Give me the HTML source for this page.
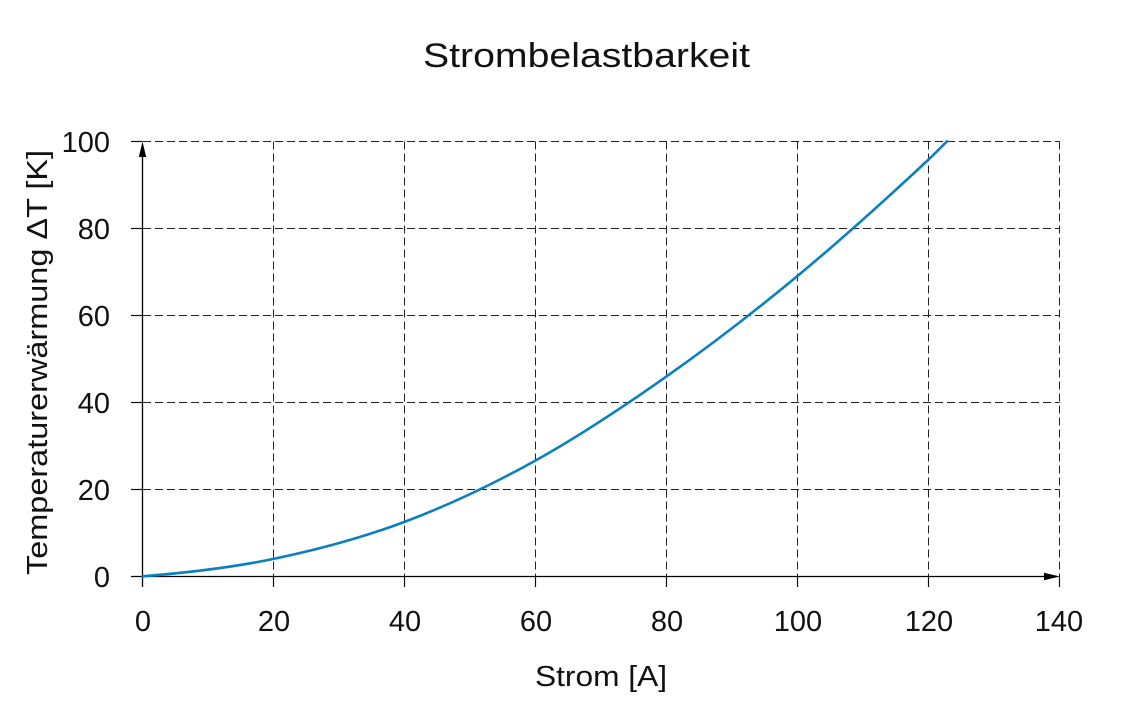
<!DOCTYPE html>
<html>
<head>
<meta charset="utf-8">
<style>
  html,body{margin:0;padding:0;background:#fff;}
  svg{display:block;}
  text{font-family:"Liberation Sans","DejaVu Sans",sans-serif;fill:#111;}
</style>
</head>
<body>
<svg width="1123" height="726" viewBox="0 0 1123 726" xmlns="http://www.w3.org/2000/svg">
  <rect width="1123" height="726" fill="#fff"/>

  <!-- Title -->
  <text x="423" y="67" font-size="34" textLength="327" lengthAdjust="spacingAndGlyphs">Strombelastbarkeit</text>

  <!-- grid (dashed) -->
  <g stroke="#222" stroke-width="1" stroke-dasharray="8 4" fill="none">
    <line x1="273.5" y1="141.5" x2="273.5" y2="576.5"/>
    <line x1="404.5" y1="141.5" x2="404.5" y2="576.5"/>
    <line x1="535.5" y1="141.5" x2="535.5" y2="576.5"/>
    <line x1="666.5" y1="141.5" x2="666.5" y2="576.5"/>
    <line x1="797.5" y1="141.5" x2="797.5" y2="576.5"/>
    <line x1="928.5" y1="141.5" x2="928.5" y2="576.5"/>
    <line x1="1059.5" y1="141.5" x2="1059.5" y2="576.5"/>
    <line x1="143" y1="489.5" x2="1059.5" y2="489.5"/>
    <line x1="143" y1="402.5" x2="1059.5" y2="402.5"/>
    <line x1="143" y1="315.5" x2="1059.5" y2="315.5"/>
    <line x1="143" y1="228.5" x2="1059.5" y2="228.5"/>
    <line x1="143" y1="141.5" x2="1059.5" y2="141.5"/>
  </g>

  <!-- ticks (solid) -->
  <g stroke="#111" stroke-width="1.2">
    <line x1="273.5" y1="576.5" x2="273.5" y2="587"/>
    <line x1="404.5" y1="576.5" x2="404.5" y2="587"/>
    <line x1="535.5" y1="576.5" x2="535.5" y2="587"/>
    <line x1="666.5" y1="576.5" x2="666.5" y2="587"/>
    <line x1="797.5" y1="576.5" x2="797.5" y2="587"/>
    <line x1="928.5" y1="576.5" x2="928.5" y2="587"/>
    <line x1="1059.5" y1="576.5" x2="1059.5" y2="587"/>
    <line x1="131" y1="489.5" x2="142.5" y2="489.5"/>
    <line x1="131" y1="402.5" x2="142.5" y2="402.5"/>
    <line x1="131" y1="315.5" x2="142.5" y2="315.5"/>
    <line x1="131" y1="228.5" x2="142.5" y2="228.5"/>
    <line x1="131" y1="141.5" x2="142.5" y2="141.5"/>
  </g>

  <!-- axes -->
  <g stroke="#000" stroke-width="1.3">
    <line x1="131" y1="576.5" x2="1046" y2="576.5"/>
    <line x1="142.5" y1="587" x2="142.5" y2="155"/>
  </g>
  <polygon points="1060,576.5 1044,572.8 1044,580.2" fill="#000"/>
  <polygon points="142.5,141.5 138.8,157 146.2,157" fill="#000"/>

  <!-- curve -->
  <path fill="none" stroke="#0a80c0" stroke-width="2.6" stroke-linecap="round"
    d="M142.7,576.3
       C186.3,572.8 230.0,568.0 273.6,558.9
       C317.2,549.8 360.9,538.3 404.5,521.9
       C448.1,505.5 491.8,484.8 535.4,460.6
       C579.0,436.4 622.7,407.3 666.3,376.6
       C709.9,345.9 753.6,312.3 797.2,276.2
       C840.8,240.1 884.5,200.6 928.1,160.0
       C934.4,154.1 940.8,147.4 947.1,141.3"/>

  <!-- x tick labels -->
  <g font-size="29" text-anchor="middle">
    <text x="143" y="631">0</text>
    <text x="274" y="631">20</text>
    <text x="405" y="631">40</text>
    <text x="536" y="631">60</text>
    <text x="667" y="631">80</text>
    <text x="798" y="631">100</text>
    <text x="929" y="631">120</text>
    <text x="1059" y="631">140</text>
  </g>

  <!-- y tick labels -->
  <g font-size="29" text-anchor="end">
    <text x="110" y="587">0</text>
    <text x="110" y="500">20</text>
    <text x="110" y="413">40</text>
    <text x="110" y="326">60</text>
    <text x="110" y="239">80</text>
    <text x="110" y="152">100</text>
  </g>

  <!-- axis labels -->
  <text x="535" y="686" font-size="29" textLength="132" lengthAdjust="spacingAndGlyphs">Strom [A]</text>
  <text transform="translate(47,362.5) rotate(-90)" font-size="29" text-anchor="middle" textLength="425" lengthAdjust="spacingAndGlyphs">Temperaturerwärmung ΔT [K]</text>
</svg>
</body>
</html>
